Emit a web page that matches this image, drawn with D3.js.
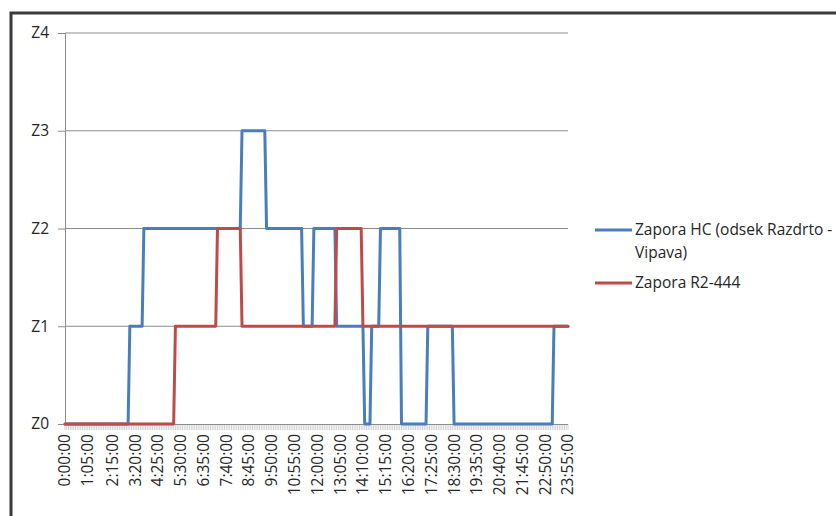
<!DOCTYPE html>
<html>
<head>
<meta charset="utf-8">
<script src="https://cdn.jsdelivr.net/npm/d3@7"></script>
<style>
  html, body { margin: 0; padding: 0; background: #fff; }
  svg { display: block; }
  text { font-family: "Open Sans", sans-serif; fill: #262626; }
</style>
</head>
<body>
<svg id="chart" width="836" height="516"></svg>
<script>
// ---- data ----
const yCategories = ["Z0", "Z1", "Z2", "Z3", "Z4"];
const xTickLabels = ["0:00:00", "1:05:00", "2:15:00", "3:20:00", "4:25:00", "5:30:00", "6:35:00",
  "7:40:00", "8:45:00", "9:50:00", "10:55:00", "12:00:00", "13:05:00", "14:10:00", "15:15:00",
  "16:20:00", "17:25:00", "18:30:00", "19:35:00", "20:40:00", "21:45:00", "22:50:00", "23:55:00"];
const seriesNames = ["Zapora HC (odsek Razdrto - Vipava)", "Zapora R2-444"];

const hcTimes = ["0:00", "3:00", "3:05", "3:40", "3:45", "8:20", "8:25", "9:30", "9:35", "11:15",
  "11:20", "11:45", "11:50", "12:50", "12:55", "14:10", "14:15", "14:30", "14:35", "14:55",
  "15:00", "15:55", "16:00", "17:10", "17:15", "18:25", "18:30", "23:10", "23:15", "23:55"];
const hcValues = [0, 0, 1, 1, 2, 2, 3, 3, 2, 2,
  1, 1, 2, 2, 1, 1, 0, 0, 1, 1,
  2, 2, 0, 0, 1, 1, 0, 0, 1, 1];

const r2Times = ["0:00", "5:10", "5:15", "7:10", "7:15", "8:20", "8:25", "12:50", "12:55", "14:05", "14:10", "23:55"];
const r2Values = [0, 0, 1, 1, 2, 2, 1, 1, 2, 2, 1, 1];

const colors = ["#4A7EBB", "#BE4B48"];

// ---- helpers ----
const toMin = s => { const p = s.split(":").map(Number); return p[0] * 60 + p[1]; };

const svg = d3.select("#chart");

// chart area border
svg.append("rect")
  .attr("x", 11).attr("y", 13).attr("width", 900).attr("height", 600)
  .attr("fill", "#fff").attr("stroke", "#3a3a3a").attr("stroke-width", 3);

const x = d3.scaleLinear().domain([0, toMin("23:55")]).range([65, 568]);
const y = d3.scalePoint().domain(yCategories).range([424, 33]);

const grid = "#8c8c8c";

// gridlines
svg.append("g").selectAll("line")
  .data(yCategories.slice(1))
  .join("line")
  .attr("x1", 65).attr("x2", 568)
  .attr("y1", d => y(d)).attr("y2", d => y(d))
  .attr("stroke", grid).attr("stroke-width", 1);

// y axis
const yAxis = d3.axisLeft(y).tickSize(7).tickPadding(9);
const gy = svg.append("g").attr("transform", "translate(65,0)").call(yAxis);
gy.select(".domain").attr("stroke", grid);
gy.selectAll(".tick line").attr("stroke", grid);
gy.selectAll(".tick text").style("font-size", "15.5px").style("font-family", "Open Sans").attr("fill", "#262626");

// category ticks every 5 min
const catTicks = d3.range(0, toMin("23:55") + 1, 5);
svg.append("g").selectAll("line")
  .data(catTicks)
  .join("line")
  .attr("x1", d => x(d)).attr("x2", d => x(d))
  .attr("y1", 424).attr("y2", 430)
  .attr("stroke", "#b4b4b4").attr("stroke-width", 0.6);

// x axis baseline
svg.append("line").attr("x1", 65).attr("x2", 568).attr("y1", 424.5).attr("y2", 424.5)
  .attr("stroke", grid);

// x labels
svg.append("g").selectAll("text")
  .data(xTickLabels)
  .join("text")
  .attr("transform", d => `translate(${x(toMin(d))},434) rotate(-90)`)
  .attr("text-anchor", "end")
  .attr("dy", "0.35em")
  .style("font-size", "15.5px")
  .text(d => d);

// series
const line = d3.line().x(d => x(toMin(d[0]))).y(d => y(yCategories[d[1]]));
const seriesData = [
  d3.zip(hcTimes, hcValues),
  d3.zip(r2Times, r2Values)
];
svg.append("g").selectAll("path")
  .data(seriesData)
  .join("path")
  .attr("d", d => line(d))
  .attr("fill", "none")
  .attr("stroke", (d, i) => colors[i])
  .attr("stroke-width", 3)
  .attr("stroke-linejoin", "round")
  .attr("stroke-linecap", "round");

// legend
const lg = svg.append("g");
const legendItems = [
  { lines: ["Zapora HC (odsek Razdrto -", "Vipava)"], y: 230, color: colors[0] },
  { lines: [seriesNames[1]], y: 283, color: colors[1] }
];
legendItems.forEach(it => {
  lg.append("line").attr("x1", 595).attr("x2", 632).attr("y1", it.y).attr("y2", it.y)
    .attr("stroke", it.color).attr("stroke-width", 3);
  it.lines.forEach((t, j) => {
    lg.append("text").attr("x", 635).attr("y", it.y + j * 23).attr("dy", "0.35em")
      .style("font-size", "15.5px").text(t);
  });
});
</script>
</body>
</html>
